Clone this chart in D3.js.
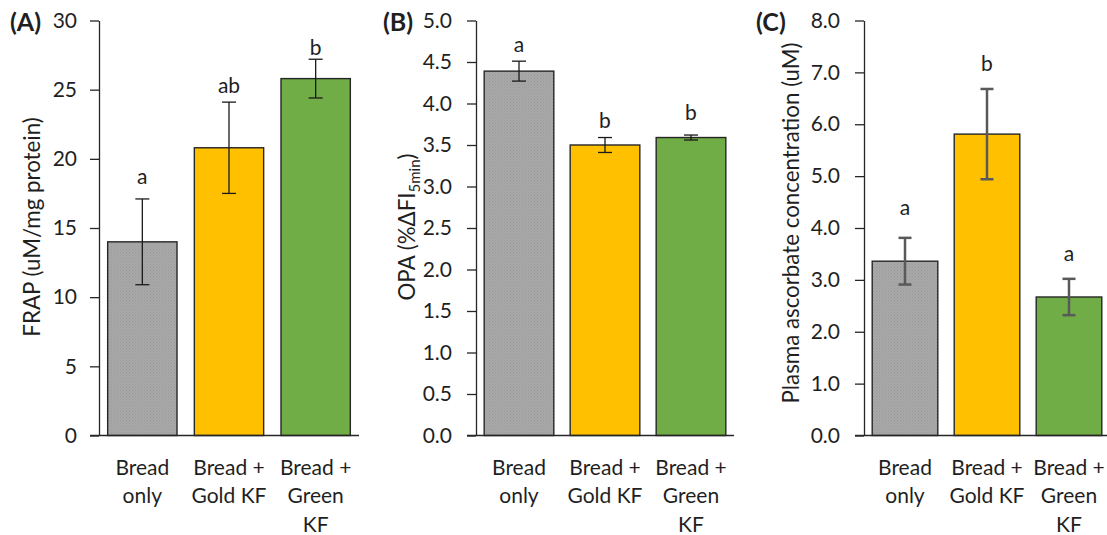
<!DOCTYPE html>
<html>
<head>
<meta charset="utf-8">
<script src="https://cdn.jsdelivr.net/npm/d3@7"></script>
<style>
  html, body { margin: 0; padding: 0; background: #fff; }
  svg { display: block; }
  text { font-family: Lato, "Open Sans", sans-serif; fill: #1f1f1f; }
</style>
</head>
<body>
<svg id="chart" width="1107" height="535"></svg>
<script>
// Treatment groups (x-axis labels, one entry per line)
const categories = [
  ["Bread", "only"],
  ["Bread +", "Gold KF"],
  ["Bread +", "Green", "KF"]
];
const barColors = ["url(#grayDots)", "#FFC000", "#70AD47"];

// (A) FRAP
const frapMeans = [14.0, 20.8, 25.8];
const frapErrors = [3.1, 3.3, 1.4];
const frapLetters = ["a", "ab", "b"];
const frapLetterAt = [18.2, 24.75, 27.5];
const frapTicks = [0, 5, 10, 15, 20, 25, 30];

// (B) OPA
const opaMeans = [4.39, 3.50, 3.59];
const opaErrors = [0.12, 0.09, 0.03];
const opaLetters = ["a", "b", "b"];
const opaLetterAt = [4.62, 3.71, 3.80];
const opaTicks = [0, 0.5, 1, 1.5, 2, 2.5, 3, 3.5, 4, 4.5, 5];

// (C) Plasma ascorbate
const ascMeans = [3.36, 5.81, 2.67];
const ascErrors = [0.45, 0.87, 0.35];
const ascLetters = ["a", "b", "a"];
const ascLetterAt = [4.25, 7.02, 3.36];
const ascTicks = [0, 1, 2, 3, 4, 5, 6, 7, 8];

const svg = d3.select("#chart");

// Fine stippled fill used for the grey bars
const defs = svg.append("defs");
const pat = defs.append("pattern")
  .attr("id", "grayDots").attr("patternUnits", "userSpaceOnUse")
  .attr("width", 3).attr("height", 3);
pat.append("rect").attr("width", 3).attr("height", 3).attr("fill", "#a8a8a8");
pat.append("rect").attr("x", 0).attr("y", 0).attr("width", 1).attr("height", 1).attr("fill", "#999");
pat.append("rect").attr("x", 1.5).attr("y", 1.5).attr("width", 1).attr("height", 1).attr("fill", "#9c9c9c");

const FONT = 21;
const TITLE_FONT = 22.3;
const y0 = 435.5, yTop = 20.5;

function panel(opts) {
  const y = d3.scaleLinear().domain(opts.domain).range([y0, yTop]);
  const x = d3.scaleBand().domain(d3.range(categories.length))
    .range([opts.left, opts.right]).paddingInner(opts.pad).paddingOuter(opts.pad / 2);

  const g = svg.append("g");

  // y axis
  const yAxis = d3.axisLeft(y).tickValues(opts.ticks).tickFormat(opts.fmt)
    .tickSizeInner(9).tickSizeOuter(0).tickPadding(opts.tickPad);
  const ya = g.append("g").attr("transform", `translate(${opts.left},0)`).call(yAxis);
  ya.select(".domain").attr("stroke", "#262626").attr("stroke-width", 1.3);
  ya.selectAll(".tick line").attr("stroke", "#262626").attr("stroke-width", 1.3);
  ya.selectAll(".tick text").attr("font-size", FONT).attr("font-family", "Lato").attr("fill", "#1f1f1f");

  // bars
  g.selectAll("rect.bar").data(opts.means).join("rect")
    .attr("class", "bar")
    .attr("x", (d, i) => x(i))
    .attr("width", x.bandwidth())
    .attr("y", d => y(d))
    .attr("height", d => y0 - y(d))
    .attr("fill", (d, i) => barColors[i])
    .attr("stroke", "#262626").attr("stroke-width", 1.4);

  // x axis baseline (drawn over the bar bottoms)
  g.append("line")
    .attr("x1", opts.left - 9).attr("x2", opts.axisEnd)
    .attr("y1", y0).attr("y2", y0)
    .attr("stroke", "#262626").attr("stroke-width", 1.3);

  // error bars
  const eb = g.selectAll("g.err").data(opts.means).join("g").attr("class", "err")
    .attr("stroke", opts.errColor).attr("stroke-width", opts.errWidth);
  eb.append("line")
    .attr("x1", (d, i) => x(i) + x.bandwidth() / 2).attr("x2", (d, i) => x(i) + x.bandwidth() / 2)
    .attr("y1", (d, i) => y(d + opts.errors[i])).attr("y2", (d, i) => y(d - opts.errors[i]));
  [1, -1].forEach(s => {
    eb.append("line")
      .attr("x1", (d, i) => x(i) + x.bandwidth() / 2 - opts.cap / 2)
      .attr("x2", (d, i) => x(i) + x.bandwidth() / 2 + opts.cap / 2)
      .attr("y1", (d, i) => y(d + s * opts.errors[i]))
      .attr("y2", (d, i) => y(d + s * opts.errors[i]));
  });

  // significance letters
  g.selectAll("text.sig").data(opts.letters).join("text")
    .attr("class", "sig")
    .attr("x", (d, i) => x(i) + x.bandwidth() / 2)
    .attr("y", (d, i) => y(opts.letterAt[i]))
    .attr("text-anchor", "middle").attr("font-size", FONT)
    .text(d => d);

  // category labels
  categories.forEach((lines, i) => {
    const t = g.append("text")
      .attr("x", x(i) + x.bandwidth() / 2).attr("y", 474.5)
      .attr("text-anchor", "middle").attr("font-size", FONT);
    lines.forEach((ln, k) => {
      t.append("tspan").attr("x", x(i) + x.bandwidth() / 2)
        .attr("y", 474.5 + k * 28.5).text(ln);
    });
  });

  // y-axis title
  const yt = g.append("text")
    .attr("transform", `translate(${opts.titleX},${opts.titleY}) rotate(-90)`)
    .attr("text-anchor", "middle").attr("font-size", TITLE_FONT);
  opts.title(yt);

  // panel letter
  g.append("text").attr("x", opts.tagX).attr("y", 31)
    .attr("font-size", 25).attr("font-weight", "bold").attr("fill", "#000")
    .text(opts.tag);
}

panel({
  left: 99, right: 359, axisEnd: 359, pad: 0.2, domain: [0, 30],
  ticks: frapTicks, fmt: d3.format("d"), tickPad: 13,
  means: frapMeans, errors: frapErrors, letters: frapLetters, letterAt: frapLetterAt,
  errColor: "#1a1a1a", errWidth: 1.3, cap: 14,
  titleX: 40, titleY: 227,
  title: t => t.text("FRAP (uM/mg protein)"),
  tag: "(A)", tagX: 10
});

panel({
  left: 476, right: 734, axisEnd: 734, pad: 0.19, domain: [0, 5],
  ticks: opaTicks, fmt: d3.format(".1f"), tickPad: 15,
  means: opaMeans, errors: opaErrors, letters: opaLetters, letterAt: opaLetterAt,
  errColor: "#1a1a1a", errWidth: 1.3, cap: 14,
  titleX: 415, titleY: 227,
  title: t => {
    t.append("tspan").text("OPA (%ΔFI");
    t.append("tspan").attr("font-size", 15).attr("dy", 5).text("5min");
    t.append("tspan").attr("dy", -5).text(")");
  },
  tag: "(B)", tagX: 383
});

panel({
  left: 864, right: 1110, axisEnd: 1107, pad: 0.2, domain: [0, 8],
  ticks: ascTicks, fmt: d3.format(".1f"), tickPad: 15,
  means: ascMeans, errors: ascErrors, letters: ascLetters, letterAt: ascLetterAt,
  errColor: "#595959", errWidth: 2.5, cap: 13,
  titleX: 799, titleY: 223,
  title: t => t.text("Plasma ascorbate concentration (uM)"),
  tag: "(C)", tagX: 756
});
</script>
</body>
</html>
